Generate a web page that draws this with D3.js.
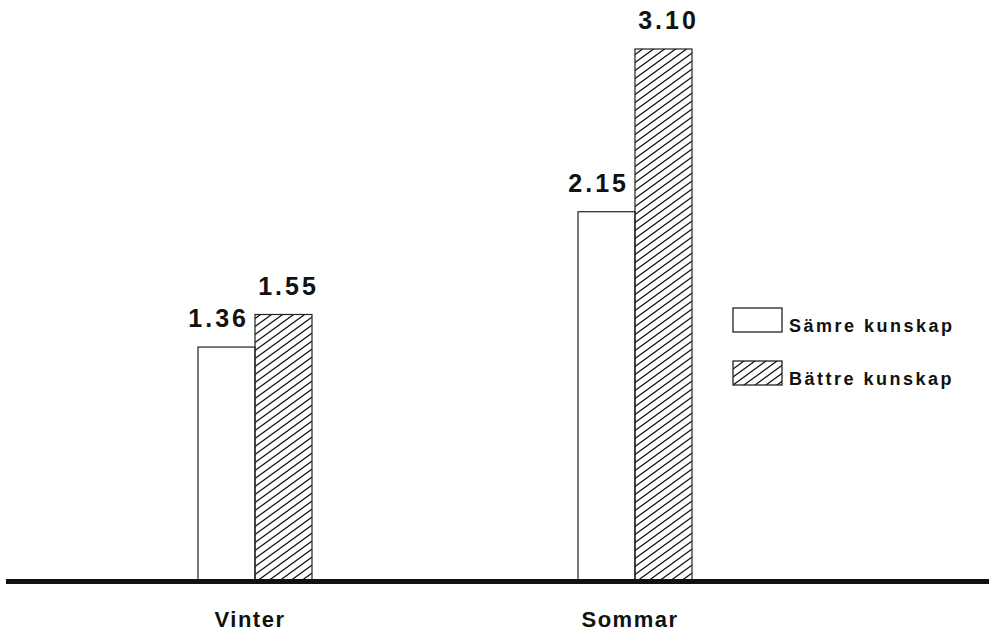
<!doctype html>
<html lang=sv>

<head>
  <meta charset=utf-8>
  <title>Vinter / Sommar</title>
  <style>
    body { margin: 0; background: #fff; }
    text { font-family: "Liberation Sans", Arial, sans-serif; font-weight: bold; fill: #111; }
  </style>
</head>

<body>
  <svg></svg>
  <script src="https://d3js.org/d3.v7.min.js"></script>
  <script>
    var width = 989;
    var height = 633;

    // data
    var seasons = ["Vinter", "Sommar"];
    var series = ["samre", "battre"];
    var seriesNames = ["Sämre kunskap", "Bättre kunskap"];
    var samre = [1.36, 2.15];
    var battre = [1.55, 3.10];

    var values = { samre: samre, battre: battre };

    var svg = d3.select("svg")
      .attr("width", width)
      .attr("height", height);

    // hatch pattern
    var defs = svg.append("defs");
    var pw = 11, ph = 8;
    defs.append("pattern")
      .attr("id", "hatch")
      .attr("patternUnits", "userSpaceOnUse")
      .attr("width", pw)
      .attr("height", ph)
      .append("path")
      .attr("d", "M0," + ph + "L" + pw + ",0" +
        "M" + (-pw) + "," + ph + "L0,0" +
        "M" + pw + "," + ph + "L" + (2 * pw) + ",0" +
        "M0," + (2 * ph) + "L" + pw + "," + ph +
        "M0,0L" + pw + "," + (-ph))
      .style("stroke", "#111")
      .style("stroke-width", 1.3);

    var fills = { samre: "#fff", battre: "url(#hatch)" };

    var xScale = d3.scaleBand()
      .domain(seasons)
      .range([198, 692])
      .paddingInner(0.7)
      .paddingOuter(0);

    var xInner = d3.scaleBand()
      .domain(series)
      .range([0, xScale.bandwidth()]);

    var yScale = d3.scaleLinear()
      .domain([0, 3.10])
      .range([580, 49]);

    var groups = svg.selectAll("g.season")
      .data(seasons)
      .enter().append("g")
      .attr("class", "season")
      .attr("transform", function (d) { return "translate(" + xScale(d) + ",0)"; });

    groups.selectAll("rect")
      .data(function (d, i) {
        return series.map(function (k) { return { key: k, value: values[k][i] }; });
      })
      .enter().append("rect")
      .attr("x", function (d) { return xInner(d.key); })
      .attr("y", function (d) { return yScale(d.value); })
      .attr("width", xInner.bandwidth())
      .attr("height", function (d) { return yScale(0) - yScale(d.value); })
      .style("fill", function (d) { return fills[d.key]; })
      .style("stroke", "#222")
      .style("stroke-width", 1.2);

    groups.selectAll("text.val")
      .data(function (d, i) {
        return series.map(function (k) { return { key: k, value: values[k][i] }; });
      })
      .enter().append("text")
      .attr("class", "val")
      .attr("x", function (d) {
        if (d.key === "samre") return xInner(d.key) + xInner.bandwidth() - 6;
        return xInner(d.key) + xInner.bandwidth() / 2 + 5;
      })
      .attr("y", function (d) { return yScale(d.value) - 20; })
      .attr("text-anchor", function (d) { return d.key === "samre" ? "end" : "middle"; })
      .style("font-size", "25px")
      .style("letter-spacing", "3px")
      .text(function (d) { return d.value.toFixed(2); });

    // baseline
    svg.append("line")
      .attr("x1", 6)
      .attr("x2", width)
      .attr("y1", yScale(0) + 1.5)
      .attr("y2", yScale(0) + 1.5)
      .style("stroke", "#111")
      .style("stroke-width", 5);

    // category labels
    svg.selectAll("text.cat")
      .data(seasons)
      .enter().append("text")
      .attr("class", "cat")
      .attr("x", function (d) { return xScale(d) + xScale.bandwidth() / 2 - 5; })
      .attr("y", 627)
      .attr("text-anchor", "middle")
      .style("font-size", "22px")
      .style("letter-spacing", "1.5px")
      .text(function (d) { return d; });

    // legend
    var legend = svg.append("g")
      .attr("transform", "translate(733,308)");

    var item = legend.selectAll("g")
      .data(series)
      .enter().append("g")
      .attr("transform", function (d, i) { return "translate(0," + (i * 53) + ")"; });

    item.append("rect")
      .attr("width", 49)
      .attr("height", 24)
      .style("fill", function (d) { return fills[d]; })
      .style("stroke", "#222")
      .style("stroke-width", 1.3);

    item.append("text")
      .attr("x", 56)
      .attr("y", 24)
      .style("font-size", "18px")
      .style("letter-spacing", "2.5px")
      .text(function (d, i) { return seriesNames[i]; });
  </script>
</body>

</html>
